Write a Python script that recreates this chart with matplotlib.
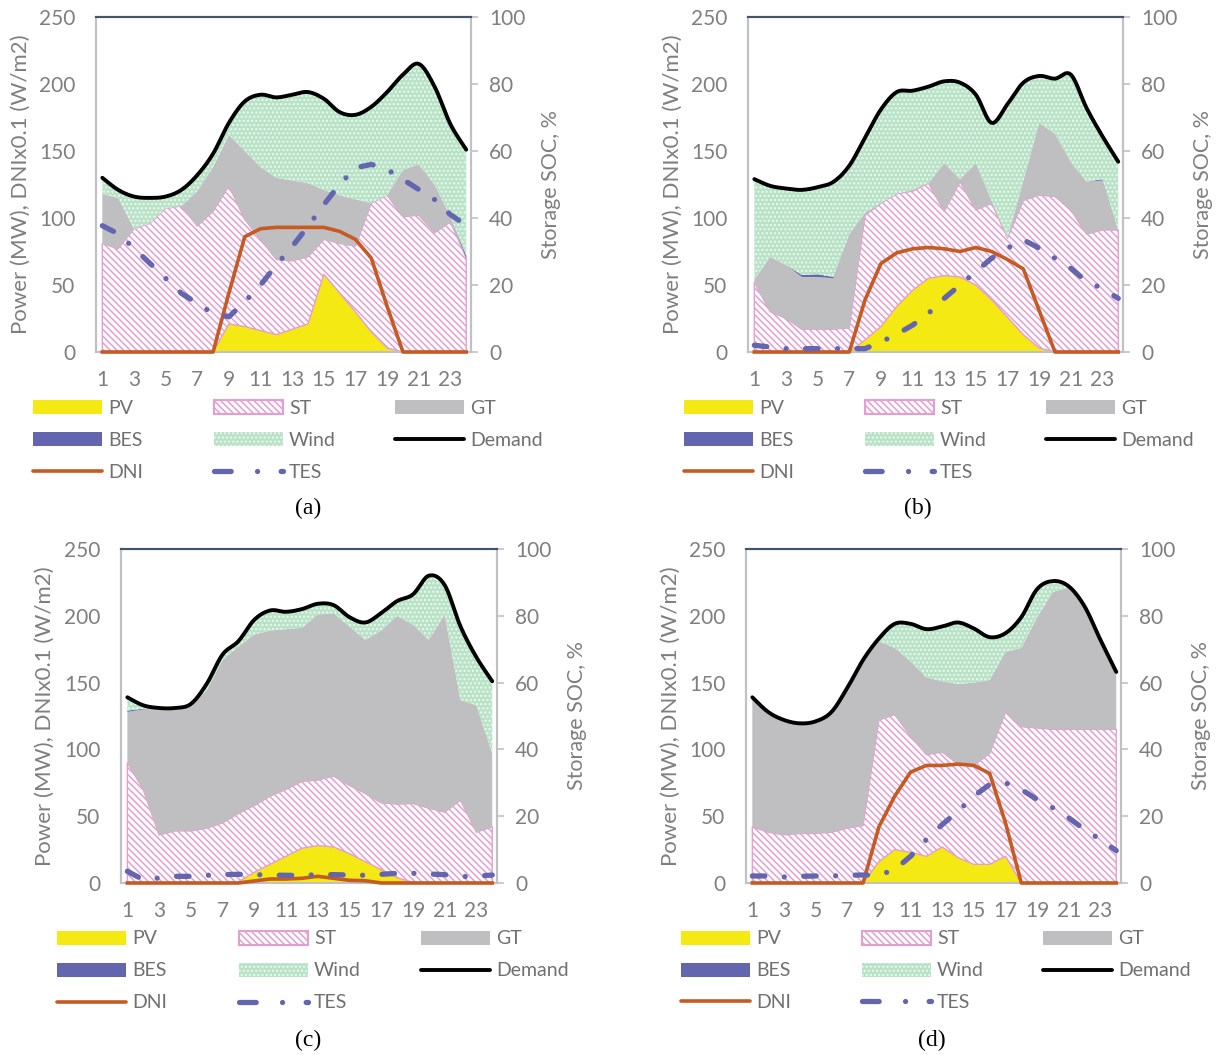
import numpy as np
import matplotlib
matplotlib.use("Agg")
import matplotlib.pyplot as plt
from matplotlib.patches import Patch
from matplotlib.lines import Line2D

plt.rcParams['font.family'] = ['Lato', 'DejaVu Sans']
plt.rcParams['hatch.linewidth'] = 1.1
plt.rcParams['lines.scale_dashes'] = False

# ====== data ======
hours = list(range(1, 25))

# (a)
pv_a = [0, 0, 0, 0, 0, 0, 0, 0, 21, 19, 16, 13, 17, 21, 58, 44, 30, 15, 3, 0, 0, 0, 0, 0]
st_a = [81, 77, 92, 96, 107, 109, 94, 105, 103, 80, 68, 56, 51, 50, 26, 37, 49, 96, 114, 101, 102, 89, 97, 70]
gt_a = [37, 38, 0, 0, 0, 0, 26, 33, 38, 51, 54, 61, 60, 55, 37, 36, 35, 0, 0, 35, 38, 36, 4, 0]
bes_a = [0, 0, 0, 0, 0, 0, 0, 0, 0, 0, 0, 0, 0, 0, 0, 0, 0, 0, 0, 0, 0, 0, 0, 2]
wind_a = [12, 6, 24, 19, 9, 12, 12, 10, 9, 37, 54, 60, 64, 68, 68, 62, 63, 72, 77, 71, 75, 73, 69, 79]
demand_a = [130, 121, 116, 115, 116, 121, 132, 148, 171, 187, 192, 190, 192, 194, 189, 179, 177, 183, 194, 207, 215, 198, 170, 151]
dni_a = [0, 0, 0, 0, 0, 0, 0, 0, 44, 86, 92, 93, 93, 93, 93, 90, 84, 70, 34, 0, 0, 0, 0, 0]
tes_a = [37.7, 35.3, 31, 26.5, 22, 17.5, 14.5, 11.5, 10.5, 15, 20, 26, 31.5, 37.5, 44, 50, 55, 56, 54.5, 51.5, 48.5, 45.5, 41, 37.8]

# (b)
pv_b = [0, 0, 0, 0, 0, 0, 0, 9, 19, 34, 46, 55, 57, 56, 50, 39, 26, 13, 3, 0, 0, 0, 0, 0]
st_b = [52, 30, 25, 17, 17, 17, 18, 93, 92, 84, 74, 71, 48, 71, 56, 72, 59, 100, 114, 116, 106, 88, 91, 91]
gt_b = [2, 41, 40, 39, 39, 38, 70, 2, 0, 0, 1, 0, 36, 2, 35, 2, 0, 15, 54, 47, 36, 39, 37, 0]
bes_b = [0, 0, 0, 1.5, 2, 1, 0, 0, 0, 0, 0, 0, 0, 0, 0, 0, 0, 0, 0, 0, 0, 0, 1, 0]
wind_b = [75, 53, 57, 63.5, 65, 71, 51, 56, 70, 76, 74, 72, 61, 72, 51, 58, 100, 73, 35, 41, 65, 55, 32, 51]
demand_b = [129, 124, 122, 121, 123, 127, 139, 160, 181, 194, 195, 198, 202, 201, 192, 171, 185, 201, 206, 204, 207, 182, 161, 142]
dni_b = [0, 0, 0, 0, 0, 0, 0, 39, 66, 74, 77, 78, 77, 75, 78, 75, 69, 62, 31, 0, 0, 0, 0, 0]
tes_b = [2, 1.5, 1, 1, 1, 1, 1, 1, 3, 5.3, 8, 11.5, 16, 20, 24, 28, 31, 33.5, 31, 28, 25, 21, 19, 16]

# (c)
pv_c = [0, 0, 0, 0, 0, 0, 0, 1, 8, 14, 20, 26, 28, 27, 22, 16, 10, 4, 0.5, 0, 0, 0, 0, 0]
st_c = [90, 70, 36, 39, 39, 41, 45, 51, 50, 51, 50, 50, 49, 53, 51, 51, 50, 55, 59, 56, 53, 62, 38, 42]
gt_c = [38, 60, 95, 92, 95, 103, 122, 125, 128, 124, 120, 115, 124, 122, 119, 115, 129, 141, 134, 126, 148, 75, 95, 55]
bes_c = [1, 0.5, 0, 0, 0, 0, 0, 0, 0, 0, 0, 0, 0, 0, 0, 0, 0, 0, 0, 0, 0, 0, 0, 0]
wind_c = [10, 2.5, 0, 0, 0, 5, 4, 4, 11, 15, 13, 14, 8, 6, 7, 13, 13, 11, 22.5, 48, 22, 55, 36, 54]
demand_c = [139, 133, 131, 131, 134, 149, 171, 181, 197, 204, 203, 205, 209, 208, 199, 195, 202, 211, 216, 230, 223, 192, 169, 151]
dni_c = [0, 0, 0, 0, 0, 0, 0, 0, 1.5, 3, 3, 3.5, 5, 3.5, 2, 1.7, 0, 0, 0, 0, 0, 0, 0, 0]
tes_c = [3.5, 1, 1.5, 2, 2, 2.3, 2.5, 2.6, 2.5, 2.4, 2.3, 2.3, 2.5, 2.5, 2.4, 2.3, 2.6, 2.9, 2.9, 2.7, 2.5, 1.9, 2, 2.4]

# (d)
pv_d = [0, 0, 0, 0, 0, 0, 0, 0, 16, 25, 23, 20, 27, 19, 14, 14, 20, 0, 0, 0, 0, 0, 0, 0]
st_d = [42, 38, 36, 37, 37, 38, 41, 43, 106, 101, 87, 76, 71, 70, 74, 83, 108, 117, 116, 115, 115, 115, 115, 115]
gt_d = [97, 88, 85, 82, 84, 90, 105, 124, 59, 50, 56, 58, 53, 60, 62, 55, 45, 59, 83, 103, 106, 92, 67, 43]
bes_d = [0] * 24
wind_d = [0, 1.5, 1.5, 0, 0, 0, 0, 0, 2, 18, 28, 36, 41, 46, 40, 32, 14, 23, 21, 8, 1, 0, 0, 0]
demand_d = [139, 128, 122, 119.5, 121, 128, 146, 167, 183, 194, 194, 190, 192, 195, 190.5, 184, 187, 199, 220, 226, 222, 207, 182, 158]
dni_d = [0, 0, 0, 0, 0, 0, 0, 0, 42, 65, 83, 88, 88, 89, 88, 82, 45, 0, 0, 0, 0, 0, 0, 0]
tes_d = [2.1, 2.1, 1.8, 2, 2.1, 2.1, 2.3, 2.4, 2.4, 4, 8, 13, 17.5, 21.5, 26, 29.5, 30, 28, 25, 22.5, 19.5, 16, 13, 9.7]

legend_labels = ['PV', 'ST', 'GT', 'BES', 'Wind', 'Demand', 'DNI', 'TES']

# ====== style ======
W, H = 1222, 1055
PV_C = '#F5E914'
ST_C = '#E49ED1'
GT_C = '#BFBFC1'
BES_C = '#6366AE'
WIND_FACE = '#B8E2C6'
WIND_DOT = '#EAF7EE'
DNI_C = '#C55A22'
TXT = '#7F7F7F'
LEG_TXT = '#707070'
AX_GRAY = '#BFC1C5'
TOP_C = '#44546A'
ST_HATCH = '\\\\\\\\\\'
TES_DASH = (0, (9.0, 14.0, 0.01, 14.0))


def smooth(x, y, n=16):
    # Catmull-Rom curve like Excel's smoothed line
    p = np.column_stack([x, y]).astype(float)
    p = np.vstack([p[0], p, p[-1]])
    t = np.linspace(0, 1, n, endpoint=False)[:, None]
    segs = []
    for i in range(1, len(p) - 2):
        p0, p1, p2, p3 = p[i - 1], p[i], p[i + 1], p[i + 2]
        segs.append(0.5 * (2 * p1 + (-p0 + p2) * t + (2 * p0 - 5 * p1 + 4 * p2 - p3) * t ** 2
                           + (-p0 + 3 * p1 - 3 * p2 + p3) * t ** 3))
    segs.append(p[-2:-1])
    return np.vstack(segs)


fig = plt.figure(figsize=(W / 100, H / 100), dpi=100)


def draw_panel(box, pv, st, gt, bes, wind, demand, dni, tes, leg_x, leg_y, cap_xy, cap):
    l, t, r, b = box
    ax = fig.add_axes([l / W, 1 - b / H, (r - l) / W, (b - t) / H])
    x = np.array(hours)
    layers = np.array([pv, st, gt, bes, wind], dtype=float)
    tops = np.cumsum(layers, axis=0)
    bots = tops - layers
    ax.fill_between(x, bots[0], tops[0], facecolor=PV_C, lw=0)
    ax.fill_between(x, bots[1], tops[1], facecolor='white', edgecolor=ST_C, hatch=ST_HATCH, lw=1.0)
    ax.fill_between(x, bots[2], tops[2], facecolor=GT_C, lw=0)
    ax.fill_between(x, bots[3], tops[3], facecolor=BES_C, lw=0)
    ax.fill_between(x, bots[4], tops[4], facecolor=WIND_FACE, edgecolor=WIND_DOT, hatch='....', lw=0)

    ax.plot(x, dni, color=DNI_C, lw=2.6, zorder=4, clip_on=False)
    sm = smooth(x, demand)
    ax.plot(sm[:, 0], sm[:, 1], color='black', lw=2.8, solid_capstyle='round', zorder=5)

    ax.set_xlim(0.6, 24.3)
    ax.set_ylim(0, 250)
    ax.set_xticks(range(1, 25, 2))
    ax.set_yticks(range(0, 251, 50))
    ax.tick_params(axis='x', length=0, pad=13, labelsize=15, labelcolor=TXT)
    ax.tick_params(axis='y', length=0, pad=15, labelsize=15, labelcolor=TXT)
    ax.set_ylabel('Power (MW), DNIx0.1 (W/m2)', color=TXT, fontsize=16)
    ax.yaxis.set_label_coords(-0.175, 0.5)

    ax2 = ax.twinx()
    ax2.plot(x, tes, color=BES_C, lw=3.8, linestyle=TES_DASH, dash_capstyle='round', clip_on=False)
    ax2.set_ylim(0, 100)
    ax2.set_yticks(range(0, 101, 20))
    ax2.tick_params(axis='y', length=5, width=1.2, color=AX_GRAY, pad=8, labelsize=15, labelcolor=TXT)
    ax2.set_ylabel('Storage SOC, %', color=TXT, fontsize=15.5)
    ax2.yaxis.set_label_coords(1.187, 0.5)

    for a in (ax, ax2):
        for s in ('left', 'right', 'bottom'):
            a.spines[s].set_color(AX_GRAY)
            a.spines[s].set_linewidth(1.5)
        a.spines['top'].set_color(TOP_C)
        a.spines['top'].set_linewidth(1.5)
    # let the DNI baseline sit on top of the x axis line
    ax2.spines['bottom'].set_visible(False)
    ax.spines['bottom'].set_zorder(1)

    handles = [
        Patch(facecolor=PV_C, lw=0),
        Patch(facecolor='white', edgecolor=ST_C, hatch=ST_HATCH, lw=1.5),
        Patch(facecolor=GT_C, lw=0),
        Patch(facecolor=BES_C, lw=0),
        Patch(facecolor=WIND_FACE, edgecolor=WIND_DOT, hatch='....', lw=0),
        Line2D([], [], color='black', lw=2.8, solid_capstyle='round'),
        Line2D([], [], color=DNI_C, lw=2.6, solid_capstyle='round'),
        Line2D([], [], color=BES_C, lw=3.8, linestyle=(0, (12, 19, 0.01, 17)), dash_capstyle='round'),
    ]
    for i, (h, lab) in enumerate(zip(handles, legend_labels)):
        col, row = i % 3, i // 3
        fig.legend(handles=[h], labels=[lab], loc='center left',
                   bbox_to_anchor=(leg_x[col] / W, 1 - leg_y[row] / H),
                   frameon=False, borderpad=0, borderaxespad=0,
                   handlelength=3.55, handletextpad=0.3, fontsize=14, labelcolor=LEG_TXT)
    fig.text(cap_xy[0] / W, 1 - cap_xy[1] / H, cap, ha='center', va='center',
             family='Liberation Serif', fontsize=17, color='black')


draw_panel((96, 17, 471, 352), pv_a, st_a, gt_a, bes_a, wind_a, demand_a, dni_a, tes_a,
           (33, 214, 395), (408, 440, 472), (308, 508), '(a)')
draw_panel((748, 17, 1123, 352), pv_b, st_b, gt_b, bes_b, wind_b, demand_b, dni_b, tes_b,
           (684, 865, 1046), (408, 440, 472), (918, 508), '(b)')
draw_panel((121, 549, 497, 883), pv_c, st_c, gt_c, bes_c, wind_c, demand_c, dni_c, tes_c,
           (57, 239, 421), (939, 971, 1003), (308, 1040), '(c)')
draw_panel((746, 549, 1121, 883), pv_d, st_d, gt_d, bes_d, wind_d, demand_d, dni_d, tes_d,
           (681, 862, 1043), (939, 971, 1002), (932, 1040), '(d)')

fig.savefig('out.png', dpi=100)
